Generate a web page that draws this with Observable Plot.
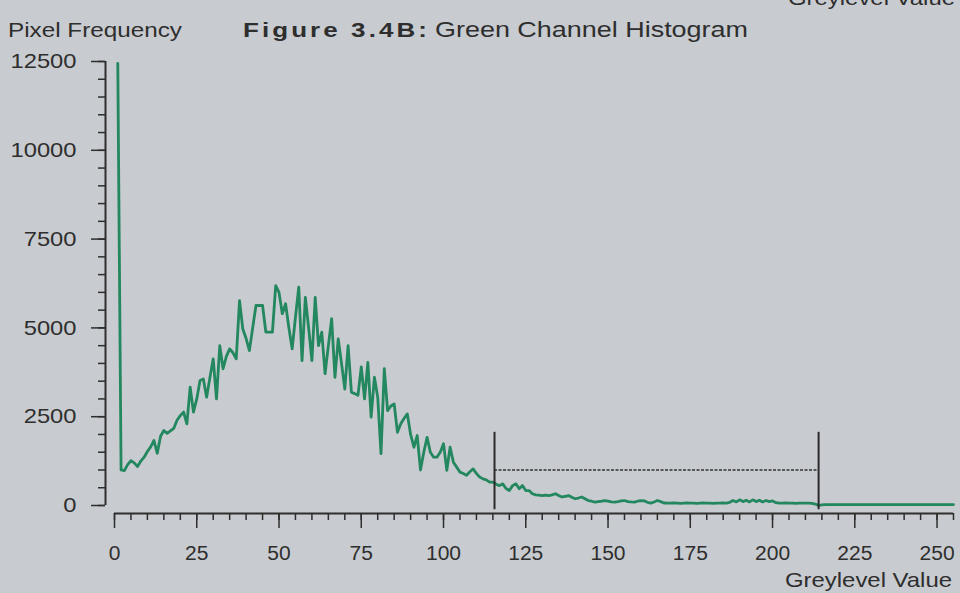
<!DOCTYPE html>
<html>
<head>
<meta charset="utf-8">
<script src="https://cdn.jsdelivr.net/npm/d3@7"></script>
<script src="https://cdn.jsdelivr.net/npm/@observablehq/plot@0.6"></script>
<style>
  html, body { margin: 0; padding: 0; background: #c8cbcf; }
  #chart { width: 960px; height: 593px; position: relative; overflow: hidden; }
  svg { display: block; }
</style>
</head>
<body>
<div id="chart"></div>
<script>
// Pixel counts for greylevels 1..255
const counts = [
  12450, 1000, 980, 1150, 1260, 1200, 1100, 1250, 1360, 1520,
  1650, 1830, 1470, 1950, 2110, 2030, 2100, 2170, 2400, 2530,
  2630, 2300, 3330, 2630, 3000, 3520, 3560, 3050, 3600, 4130,
  3000, 4500, 3850, 4200, 4410, 4300, 4130, 5770, 4970, 4700,
  4360, 5000, 5630, 5630, 5630, 4880, 4880, 4880, 6190, 6000,
  5400, 5680, 5000, 4410, 5300, 6150, 4080, 5860, 5000, 4080,
  5860, 4500, 4880, 3710, 4500, 5260, 3610, 4690, 4000, 3280,
  4500, 3190, 3150, 3100, 3900, 3000, 4030, 2490, 3610, 3050,
  1460, 3850, 2670, 2800, 2860, 2060, 2300, 2450, 2580, 2000,
  1640, 1970, 1000, 1500, 1920, 1500, 1360, 1360, 1500, 1740,
  990, 1640, 1220, 1080, 940, 900, 850, 950, 1030, 900,
  800, 750, 720, 660, 660, 600, 560, 610, 480, 420,
  560, 610, 470, 560, 420, 420, 330, 300, 290, 280,
  290, 280, 300, 330, 280, 240, 260, 280, 230, 190,
  210, 240, 190, 140, 120, 95, 110, 120, 140, 120,
  100, 95, 110, 130, 140, 110, 100, 95, 120, 140,
  130, 90, 66, 100, 140, 110, 70, 66, 66, 70,
  66, 60, 66, 70, 66, 66, 60, 66, 70, 66,
  66, 60, 66, 66, 70, 66, 90, 140, 100, 160,
  110, 150, 100, 160, 110, 150, 100, 140, 110, 130,
  80, 66, 66, 70, 66, 66, 60, 66, 66, 66,
  66, 60, 40, 0, 20, 25, 25, 25, 25, 25,
  25, 25, 25, 25, 25, 25, 25, 25, 25, 25,
  25, 25, 25, 25, 25, 25, 25, 25, 25, 25,
  25, 25, 25, 25, 25, 25, 25, 25, 25, 25,
  25, 25, 25, 25, 25
];
const firstLevel = 1;

// Threshold markers
const thresholds = [115.5, 214];
const thresholdTop = 2060;
const thresholdBottom = -120;
const thresholdLevel = 1000;

// Ticks
const yMajorTicks = [0, 2500, 5000, 7500, 10000, 12500];
const yMinorTicks = [0,500,1000,1500,2000,2500,3000,3500,4000,4500,5000,5500,6000,6500,7000,7500,8000,8500,9000,9500,10000,10500,11000,11500,12000,12500];
const xMajorTicks = [0, 25, 50, 75, 100, 125, 150, 175, 200, 225, 250];
const xMinorTicks = [0,5,10,15,20,25,30,35,40,45,50,55,60,65,70,75,80,85,90,95,100,105,110,115,120,125,130,135,140,145,150,155,160,165,170,175,180,185,190,195,200,205,210,215,220,225,230,235,240,245,250,255];

const titleBold = "Figure 3.4B:";
const titleRest = "Green Channel Histogram";
const yTitle = "Pixel Frequency";
const xTitle = "Greylevel Value";

const green = "#23875f";
const ink = "#2e2e2e";

const chart = Plot.plot({
  width: 960,
  height: 593,
  marginTop: 61,
  marginBottom: 88,
  marginLeft: 114,
  marginRight: 7,
  style: {
    background: "transparent",
    fontFamily: "'Liberation Sans', Arial, sans-serif",
    fontSize: "20px",
    color: ink
  },
  x: { domain: [0, 255] },
  y: { domain: [0, 12500] },
  marks: [
    Plot.ruleX([0], { y1: 0, y2: 12500, dx: -9, stroke: ink, strokeWidth: 2 }),
    Plot.ruleY([0], { x1: 0, x2: 255, dy: 8, stroke: ink, strokeWidth: 2 }),
    Plot.axisY({ ticks: yMinorTicks, tickSize: 7, text: null, dx: -9, label: null, stroke: ink, strokeWidth: 1.5 }),
    Plot.axisY({ ticks: yMajorTicks, tickSize: 14, tickPadding: 15, dx: -9, label: null, tickFormat: d => String(d), stroke: ink, strokeWidth: 1.5, fontSize: 21 }),
    Plot.axisX({ ticks: xMinorTicks, tickSize: 7, text: null, dy: 8, label: null, stroke: ink, strokeWidth: 1.5 }),
    Plot.axisX({ ticks: xMajorTicks, tickSize: 15, tickPadding: 17, dy: 8, label: null, tickFormat: d => String(d), stroke: ink, strokeWidth: 1.5, fontSize: 20 }),
    Plot.ruleY([thresholdLevel], { x1: thresholds[0], x2: thresholds[1], stroke: "#333", strokeWidth: 1.6, strokeDasharray: "3,1.5" }),
    Plot.lineY(counts, { x: (d, i) => i + firstLevel, y: d => d, stroke: green, strokeWidth: 2.8, strokeLinejoin: "round" }),
    Plot.ruleX(thresholds, { y1: thresholdBottom, y2: thresholdTop, stroke: "#2a2a2a", strokeWidth: 2 })
  ]
});

document.getElementById("chart").appendChild(chart);

const svg = d3.select(chart);
const font = "'Liberation Sans', Arial, sans-serif";
function addText(str, x, y, opts) {
  const t = svg.append("text")
    .attr("x", x).attr("y", y)
    .attr("fill", ink)
    .attr("font-family", font)
    .attr("font-size", opts.size || 21)
    .attr("font-weight", opts.weight || "normal")
    .attr("text-anchor", opts.anchor || "start")
    .style("letter-spacing", opts.spacing || "0px")
    .text(str);
  if (opts.width) {
    t.attr("textLength", opts.width).attr("lengthAdjust", "spacingAndGlyphs");
  }
  return t;
}
function stretch(sel, k) {
  sel.each(function () {
    const w = this.getComputedTextLength();
    this.setAttribute("textLength", w * k);
    this.setAttribute("lengthAdjust", "spacingAndGlyphs");
  });
}

addText(yTitle, 8, 37, { size: 21, width: 174 });
addText(titleBold, 243, 37, { size: 21, weight: "bold", spacing: "2.5px", width: 187 });
addText(titleRest, 435, 37, { size: 22, width: 313 });
addText(xTitle, 952, 587, { size: 21, anchor: "end", width: 167 });
addText(xTitle, 955, 5, { size: 21, anchor: "end", width: 167 });

stretch(svg.selectAll('g[aria-label="y-axis tick label"] text'), 1.13);
stretch(svg.selectAll('g[aria-label="x-axis tick label"] text'), 1.05);
</script>
</body>
</html>
